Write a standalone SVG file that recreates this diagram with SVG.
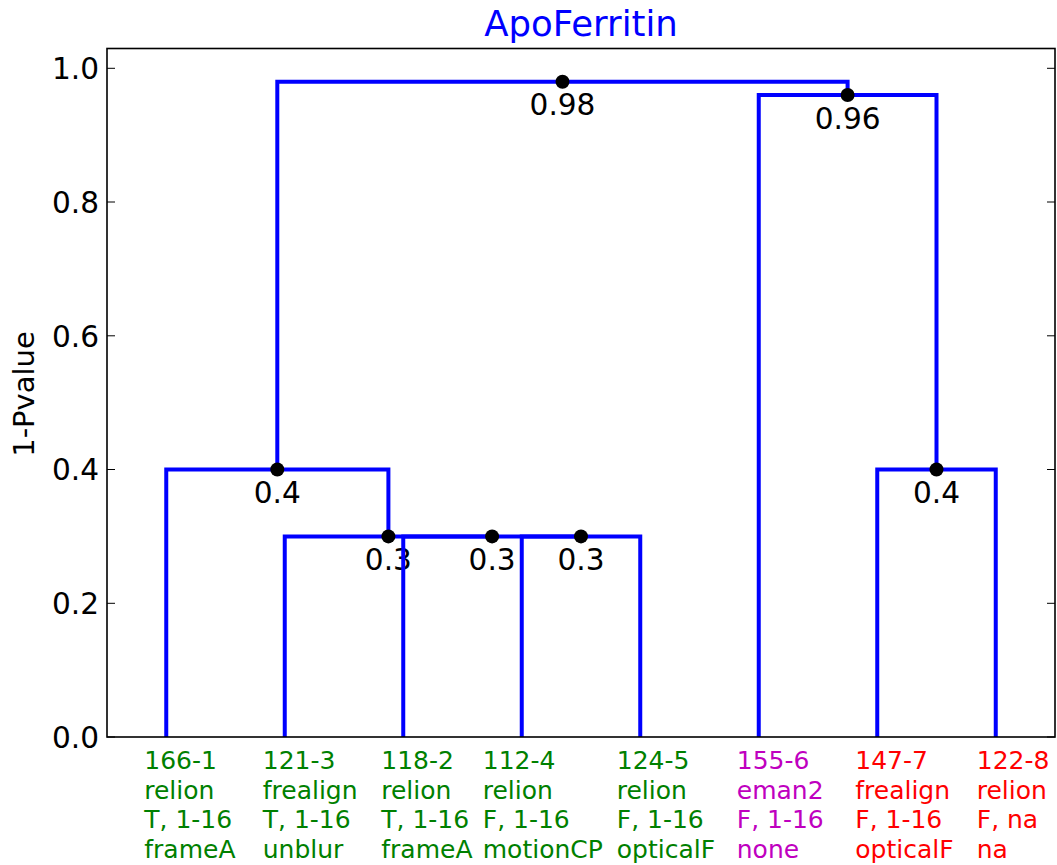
<svg xmlns="http://www.w3.org/2000/svg" width="1057" height="865" viewBox="0 0 1057 865">
  <style>
    text { font-family: "DejaVu Sans", "Liberation Sans", sans-serif; }
    .tick { font-size: 29.6px; fill: #000; text-anchor: end; }
    .val { font-size: 29.6px; fill: #000; text-anchor: middle; }
    .leaf { font-size: 25px; }
    .g { fill: #008000; }
    .m { fill: #bf00bf; }
    .r { fill: #ff0000; }
    .link { fill: none; stroke: #0000ff; stroke-width: 4; stroke-linejoin: miter; stroke-linecap: butt; }
    .spine { fill: none; stroke: #000; stroke-width: 1.6; }
    .tk { stroke: #000; stroke-width: 1; }
    .dot { fill: #000; }
  </style>

  <rect width="1057" height="865" fill="#fff"/>

  <!-- title and axis label -->
  <text x="581" y="36" font-size="35.5" fill="#0000ff" text-anchor="middle">ApoFerritin</text>
  <text transform="translate(34,394) rotate(-90)" font-size="29" fill="#000" text-anchor="middle">1-Pvalue</text>

  <!-- y axis tick labels -->
  <g id="yticks">
    <text class="tick" x="99" y="747.8">0.0</text>
    <text class="tick" x="99" y="614.1">0.2</text>
    <text class="tick" x="99" y="480.3">0.4</text>
    <text class="tick" x="99" y="346.6">0.6</text>
    <text class="tick" x="99" y="212.8">0.8</text>
    <text class="tick" x="99" y="79.1">1.0</text>
  </g>

  <!-- merge heights printed under each merge point -->
  <g id="node-c1"><text class="val" x="581" y="569.9">0.3</text></g>
  <g id="node-c2"><text class="val" x="492.1" y="569.9">0.3</text></g>
  <g id="node-c3"><text class="val" x="388.4" y="569.9">0.3</text></g>
  <g id="node-c4"><text class="val" x="277.3" y="503">0.4</text></g>
  <g id="node-c5"><text class="val" x="936.5" y="503">0.4</text></g>
  <g id="node-c6"><text class="val" x="847.6" y="128.5">0.96</text></g>
  <g id="node-c7"><text class="val" x="562.5" y="115.2">0.98</text></g>

  <!-- dendrogram links -->
  <g id="connectors">
    <path class="link" d="M521.75,737 V536.4 H640.25 V737"/>
    <path class="link" d="M403.25,737 V536.4 H581"/>
    <path class="link" d="M284.75,737 V536.4 H492.1"/>
    <path class="link" d="M166.25,737 V469.5 H388.4 V536.4"/>
    <path class="link" d="M877.25,737 V469.5 H995.75 V737"/>
    <path class="link" d="M758.75,737 V95 H936.5 V469.5"/>
    <path class="link" d="M277.3,469.5 V81.7 H847.6 V95"/>
  </g>

  <!-- merge point markers -->
  <g id="dots">
    <circle class="dot" cx="581" cy="536.4" r="7"/>
    <circle class="dot" cx="492.1" cy="536.4" r="7"/>
    <circle class="dot" cx="388.4" cy="536.4" r="7"/>
    <circle class="dot" cx="277.3" cy="469.5" r="7"/>
    <circle class="dot" cx="936.5" cy="469.5" r="7"/>
    <circle class="dot" cx="847.6" cy="95" r="7"/>
    <circle class="dot" cx="562.5" cy="81.7" r="7"/>
  </g>

  <!-- axes frame and ticks -->
  <g id="axes">
    <rect class="spine" x="107" y="48.5" width="948" height="688.5"/>
    <path class="tk" d="M107,737 h8 M107,603.3 h8 M107,469.5 h8 M107,335.8 h8 M107,202 h8 M107,68.3 h8"/>
    <path class="tk" d="M1055,737 h-8 M1055,603.3 h-8 M1055,469.5 h-8 M1055,335.8 h-8 M1055,202 h-8 M1055,68.3 h-8"/>
  </g>

  <!-- leaf labels -->
  <g id="leaf-1"><text class="leaf g" x="144.25"><tspan x="144.25" y="769">166-1</tspan><tspan x="144.25" y="798.5">relion</tspan><tspan x="144.25" y="828">T, 1-16</tspan><tspan x="144.25" y="857.5">frameA</tspan></text></g>
  <g id="leaf-3"><text class="leaf g" x="262.75"><tspan x="262.75" y="769">121-3</tspan><tspan x="262.75" y="798.5">frealign</tspan><tspan x="262.75" y="828">T, 1-16</tspan><tspan x="262.75" y="857.5">unblur</tspan></text></g>
  <g id="leaf-2"><text class="leaf g" x="381.25"><tspan x="381.25" y="769">118-2</tspan><tspan x="381.25" y="798.5">relion</tspan><tspan x="381.25" y="828">T, 1-16</tspan><tspan x="381.25" y="857.5">frameA</tspan></text></g>
  <g id="leaf-4"><text class="leaf g" x="482.75"><tspan x="482.75" y="769">112-4</tspan><tspan x="482.75" y="798.5">relion</tspan><tspan x="482.75" y="828">F, 1-16</tspan><tspan x="482.75" y="857.5">motionCP</tspan></text></g>
  <g id="leaf-5"><text class="leaf g" x="616.75"><tspan x="616.75" y="769">124-5</tspan><tspan x="616.75" y="798.5">relion</tspan><tspan x="616.75" y="828">F, 1-16</tspan><tspan x="616.75" y="857.5">opticalF</tspan></text></g>
  <g id="leaf-6"><text class="leaf m" x="736.75"><tspan x="736.75" y="769">155-6</tspan><tspan x="736.75" y="798.5">eman2</tspan><tspan x="736.75" y="828">F, 1-16</tspan><tspan x="736.75" y="857.5">none</tspan></text></g>
  <g id="leaf-7"><text class="leaf r" x="855.25"><tspan x="855.25" y="769">147-7</tspan><tspan x="855.25" y="798.5">frealign</tspan><tspan x="855.25" y="828">F, 1-16</tspan><tspan x="855.25" y="857.5">opticalF</tspan></text></g>
  <g id="leaf-8"><text class="leaf r" x="976.75"><tspan x="976.75" y="769">122-8</tspan><tspan x="976.75" y="798.5">relion</tspan><tspan x="976.75" y="828">F, na</tspan><tspan x="976.75" y="857.5">na</tspan></text></g>
</svg>
